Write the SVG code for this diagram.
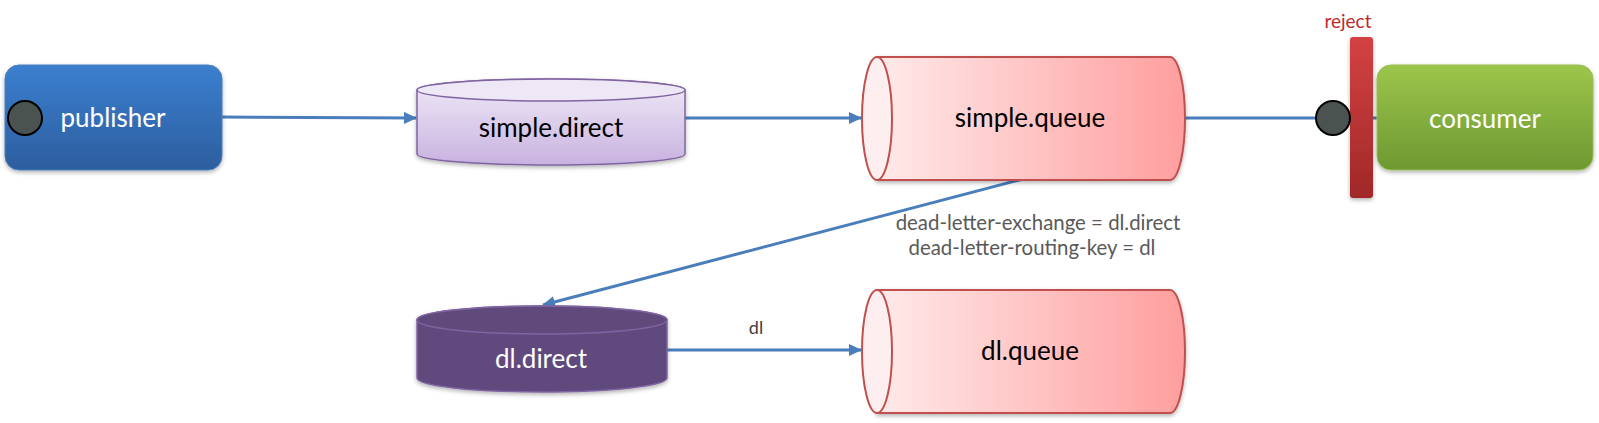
<svg xmlns="http://www.w3.org/2000/svg" width="1599" height="423" viewBox="0 0 1599 423">
<style>
.lbl{font-family:Lato,"Open Sans",sans-serif;}
.conn{stroke:#4A7EBB;stroke-width:3;fill:none;}
.q{fill:url(#qg);stroke:#C0504D;stroke-width:2;}
.qe{fill:#FDEFEF;stroke:#C0504D;stroke-width:2;}
</style>
<defs>
<linearGradient id="pubg" x1="0" y1="0" x2="0" y2="1"><stop offset="0" stop-color="#3C7FD0"/><stop offset="1" stop-color="#2C5E9E"/></linearGradient>
<linearGradient id="cong" x1="0" y1="0" x2="0" y2="1"><stop offset="0" stop-color="#9CC64A"/><stop offset="1" stop-color="#6E9832"/></linearGradient>
<linearGradient id="sdg" x1="0" y1="0" x2="0" y2="1"><stop offset="0" stop-color="#F0EAF7"/><stop offset="1" stop-color="#C8B2E0"/></linearGradient>
<linearGradient id="qg" x1="0" y1="0" x2="1" y2="0"><stop offset="0" stop-color="#FFEAEA"/><stop offset="1" stop-color="#FF9E9E"/></linearGradient>
<linearGradient id="rg" x1="0" y1="0" x2="0" y2="1"><stop offset="0" stop-color="#D44242"/><stop offset="1" stop-color="#A02828"/></linearGradient>
<filter id="sh" x="-10%" y="-10%" width="120%" height="130%"><feDropShadow dx="0" dy="2" stdDeviation="2" flood-color="#000" flood-opacity="0.3"/></filter>
<marker id="ah" markerWidth="13" markerHeight="12" refX="12" refY="6" orient="auto" markerUnits="userSpaceOnUse"><path d="M0,0 L13,6 L0,12 z" fill="#4A7EBB"/></marker>
</defs>

<g id="connectors">
<line class="conn" x1="222" y1="117" x2="416" y2="118" marker-end="url(#ah)"/>
<line class="conn" x1="685" y1="118" x2="861" y2="118" marker-end="url(#ah)"/>
<line class="conn" x1="1185" y1="118" x2="1330" y2="118"/>
<line class="conn" x1="1370" y1="118" x2="1377" y2="118"/>
<line class="conn" x1="1023" y1="179" x2="543" y2="305" marker-end="url(#ah)"/>
<line class="conn" x1="667" y1="350" x2="861" y2="350" marker-end="url(#ah)"/>
<text class="lbl" x="756" y="334" font-size="18" fill="#404040" text-anchor="middle">dl</text>
<text class="lbl" x="1038" y="230" font-size="20.4" fill="#595959" text-anchor="middle">dead-letter-exchange = dl.direct</text>
<text class="lbl" x="1032" y="255" font-size="20.4" fill="#595959" text-anchor="middle">dead-letter-routing-key = dl</text>
</g>

<g id="publisher">
<rect x="5" y="65" width="217" height="105" rx="14" fill="url(#pubg)" stroke="#4A7EBB" stroke-width="1" filter="url(#sh)"/>
<circle cx="25" cy="118" r="17" fill="#4A5350" stroke="#000" stroke-width="2"/>
<text class="lbl" x="113" y="127" font-size="26" fill="#fff" text-anchor="middle">publisher</text>
</g>

<g id="simple.direct">
<path d="M417,90 L417,154 A134,11 0 0 0 685,154 L685,90 A134,11 0 0 0 417,90 z" fill="url(#sdg)" stroke="#8064A2" stroke-width="1.5" filter="url(#sh)"/>
<ellipse cx="551" cy="90" rx="134" ry="11" fill="#EEE7F6" stroke="#8064A2" stroke-width="1.5"/>
<text class="lbl" x="551" y="137" font-size="26" fill="#000" text-anchor="middle">simple.direct</text>
</g>

<g id="simple.queue">
<path class="q" d="M877,57 L1170,57 A15,61.5 0 0 1 1170,180 L877,180 z" filter="url(#sh)"/>
<ellipse class="qe" cx="877" cy="118.5" rx="15" ry="61.5"/>
<text class="lbl" x="1030" y="127" font-size="26" fill="#000" text-anchor="middle">simple.queue</text>
</g>

<g id="reject">
<rect x="1350" y="37" width="23" height="161" rx="3" fill="url(#rg)" filter="url(#sh)"/>
<text class="lbl" x="1348" y="28" font-size="19" fill="#C0282D" text-anchor="middle">reject</text>
<circle cx="1333" cy="118" r="17" fill="#4A5350" stroke="#000" stroke-width="2"/>
</g>

<g id="consumer">
<rect x="1377" y="65" width="216" height="105" rx="14" fill="url(#cong)" stroke="#9BBB59" stroke-width="1" filter="url(#sh)"/>
<text class="lbl" x="1485" y="128" font-size="26" fill="#fff" text-anchor="middle">consumer</text>
</g>

<g id="dl.direct">
<path d="M417,320 L417,378 A125,14 0 0 0 667,378 L667,320 A125,14 0 0 0 417,320 z" fill="#604A7B" stroke="#8064A2" stroke-width="1.5" filter="url(#sh)"/>
<ellipse cx="542" cy="320" rx="125" ry="14" fill="#604A7B" stroke="#8064A2" stroke-width="1.5"/>
<text class="lbl" x="541" y="368" font-size="26" fill="#fff" text-anchor="middle">dl.direct</text>
</g>

<g id="dl.queue">
<path class="q" d="M877,290 L1170,290 A15,61.5 0 0 1 1170,413 L877,413 z" filter="url(#sh)"/>
<ellipse class="qe" cx="877" cy="351.5" rx="15" ry="61.5"/>
<text class="lbl" x="1030" y="360" font-size="26" fill="#000" text-anchor="middle">dl.queue</text>
</g>
</svg>
